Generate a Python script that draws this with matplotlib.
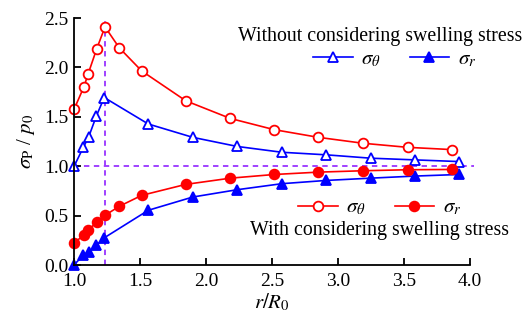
import matplotlib
matplotlib.use("Agg")
import matplotlib.pyplot as plt

plt.rcParams["font.family"] = "Liberation Serif"
plt.rcParams["mathtext.fontset"] = "stix"

# red: with considering swelling stress
x_red = [1.0, 1.076, 1.106, 1.172, 1.235, 1.343, 1.513, 1.847, 2.185, 2.516, 2.852, 3.191, 3.527, 3.863]
red_theta = [1.574, 1.806, 1.93, 2.188, 2.41, 2.198, 1.964, 1.662, 1.483, 1.37, 1.292, 1.232, 1.191, 1.168]
red_r = [0.225, 0.302, 0.352, 0.433, 0.503, 0.594, 0.705, 0.816, 0.879, 0.916, 0.94, 0.954, 0.964, 0.967]

# blue: without considering swelling stress
x_blue = [1.0, 1.07, 1.11, 1.17, 1.229, 1.563, 1.9, 2.236, 2.575, 2.912, 3.248, 3.581, 3.914]
blue_theta = [0.997, 1.19, 1.292, 1.51, 1.695, 1.427, 1.292, 1.2, 1.141, 1.115, 1.081, 1.064, 1.047]
blue_r = [0.0, 0.1, 0.134, 0.2, 0.275, 0.554, 0.688, 0.762, 0.823, 0.856, 0.879, 0.9, 0.916]

x_peak = 1.235

W, H = 528, 322
fig = plt.figure(figsize=(W / 100, H / 100), dpi=100)
ax = fig.add_axes([74 / W, 1 - 265 / H, (470 - 74) / W, (265 - 18) / H])

purple = "#9933ff"
ax.axvline(x_peak, color=purple, ls=(0, (3, 2.5)), lw=1.3, zorder=1)
ax.plot([1.0, 4.03], [1.0, 1.0], color=purple, ls=(0, (3, 2.5)), lw=1.3, zorder=1, clip_on=False)

ms = 7
lw = 1.2
b1, = ax.plot(x_blue, blue_theta, color="blue", marker="^", mfc="white", mec="blue",
              ms=ms, mew=1.3, lw=lw, clip_on=False, label=r"$\sigma_\theta$")
b2, = ax.plot(x_blue, blue_r, color="blue", marker="^", mfc="blue", mec="blue",
              ms=ms, mew=1.3, lw=lw, clip_on=False, label=r"$\sigma_r$")
r1, = ax.plot(x_red, red_theta, color="red", marker="o", mfc="white", mec="red",
              ms=ms, mew=1.3, lw=lw, clip_on=False, label=r"$\sigma_\theta$")
r2, = ax.plot(x_red, red_r, color="red", marker="o", mfc="red", mec="red",
              ms=ms, mew=1.3, lw=lw, clip_on=False, label=r"$\sigma_r$")

ax.set_xlim(1.0, 4.0)
ax.set_ylim(0.0, 2.5)
ax.set_xticks([1.0, 1.5, 2.0, 2.5, 3.0, 3.5, 4.0])
ax.set_yticks([0.0, 0.5, 1.0, 1.5, 2.0, 2.5])
ax.xaxis.set_major_formatter(matplotlib.ticker.FormatStrFormatter("%.1f"))
ax.yaxis.set_major_formatter(matplotlib.ticker.FormatStrFormatter("%.1f"))
ax.spines["top"].set_visible(False)
ax.spines["right"].set_visible(False)
ax.spines["left"].set_linewidth(1.3)
ax.spines["bottom"].set_linewidth(1.3)
ax.tick_params(direction="in", length=5, width=1.3, labelsize=14)
ax.tick_params(axis="x", pad=6)
ax.tick_params(axis="y", pad=4)

ax.set_xlabel(r"$r/R_0$", fontsize=15, labelpad=1)
ax.set_ylabel(r"$\sigma_{\rm P}$ / $p_0$", fontsize=15, labelpad=5)

fig.text(380 / W, 1 - 37 / H, "Without considering swelling stress",
         ha="center", va="center", fontsize=14.3)
fig.text(380 / W, 1 - 230 / H, "With considering swelling stress",
         ha="center", va="center", fontsize=14.3)

leg_kw = dict(ncol=2, frameon=False, loc="center left", fontsize=15,
              handlelength=1.9, handletextpad=0.4, columnspacing=1.4,
              borderpad=0, borderaxespad=0, bbox_transform=fig.transFigure)
leg1 = ax.legend(handles=[b1, b2], bbox_to_anchor=(313 / W, 1 - 60 / H), **leg_kw)
ax.add_artist(leg1)
ax.legend(handles=[r1, r2], bbox_to_anchor=(298 / W, 1 - 208 / H), **leg_kw)

fig.savefig("out.png", dpi=100)
